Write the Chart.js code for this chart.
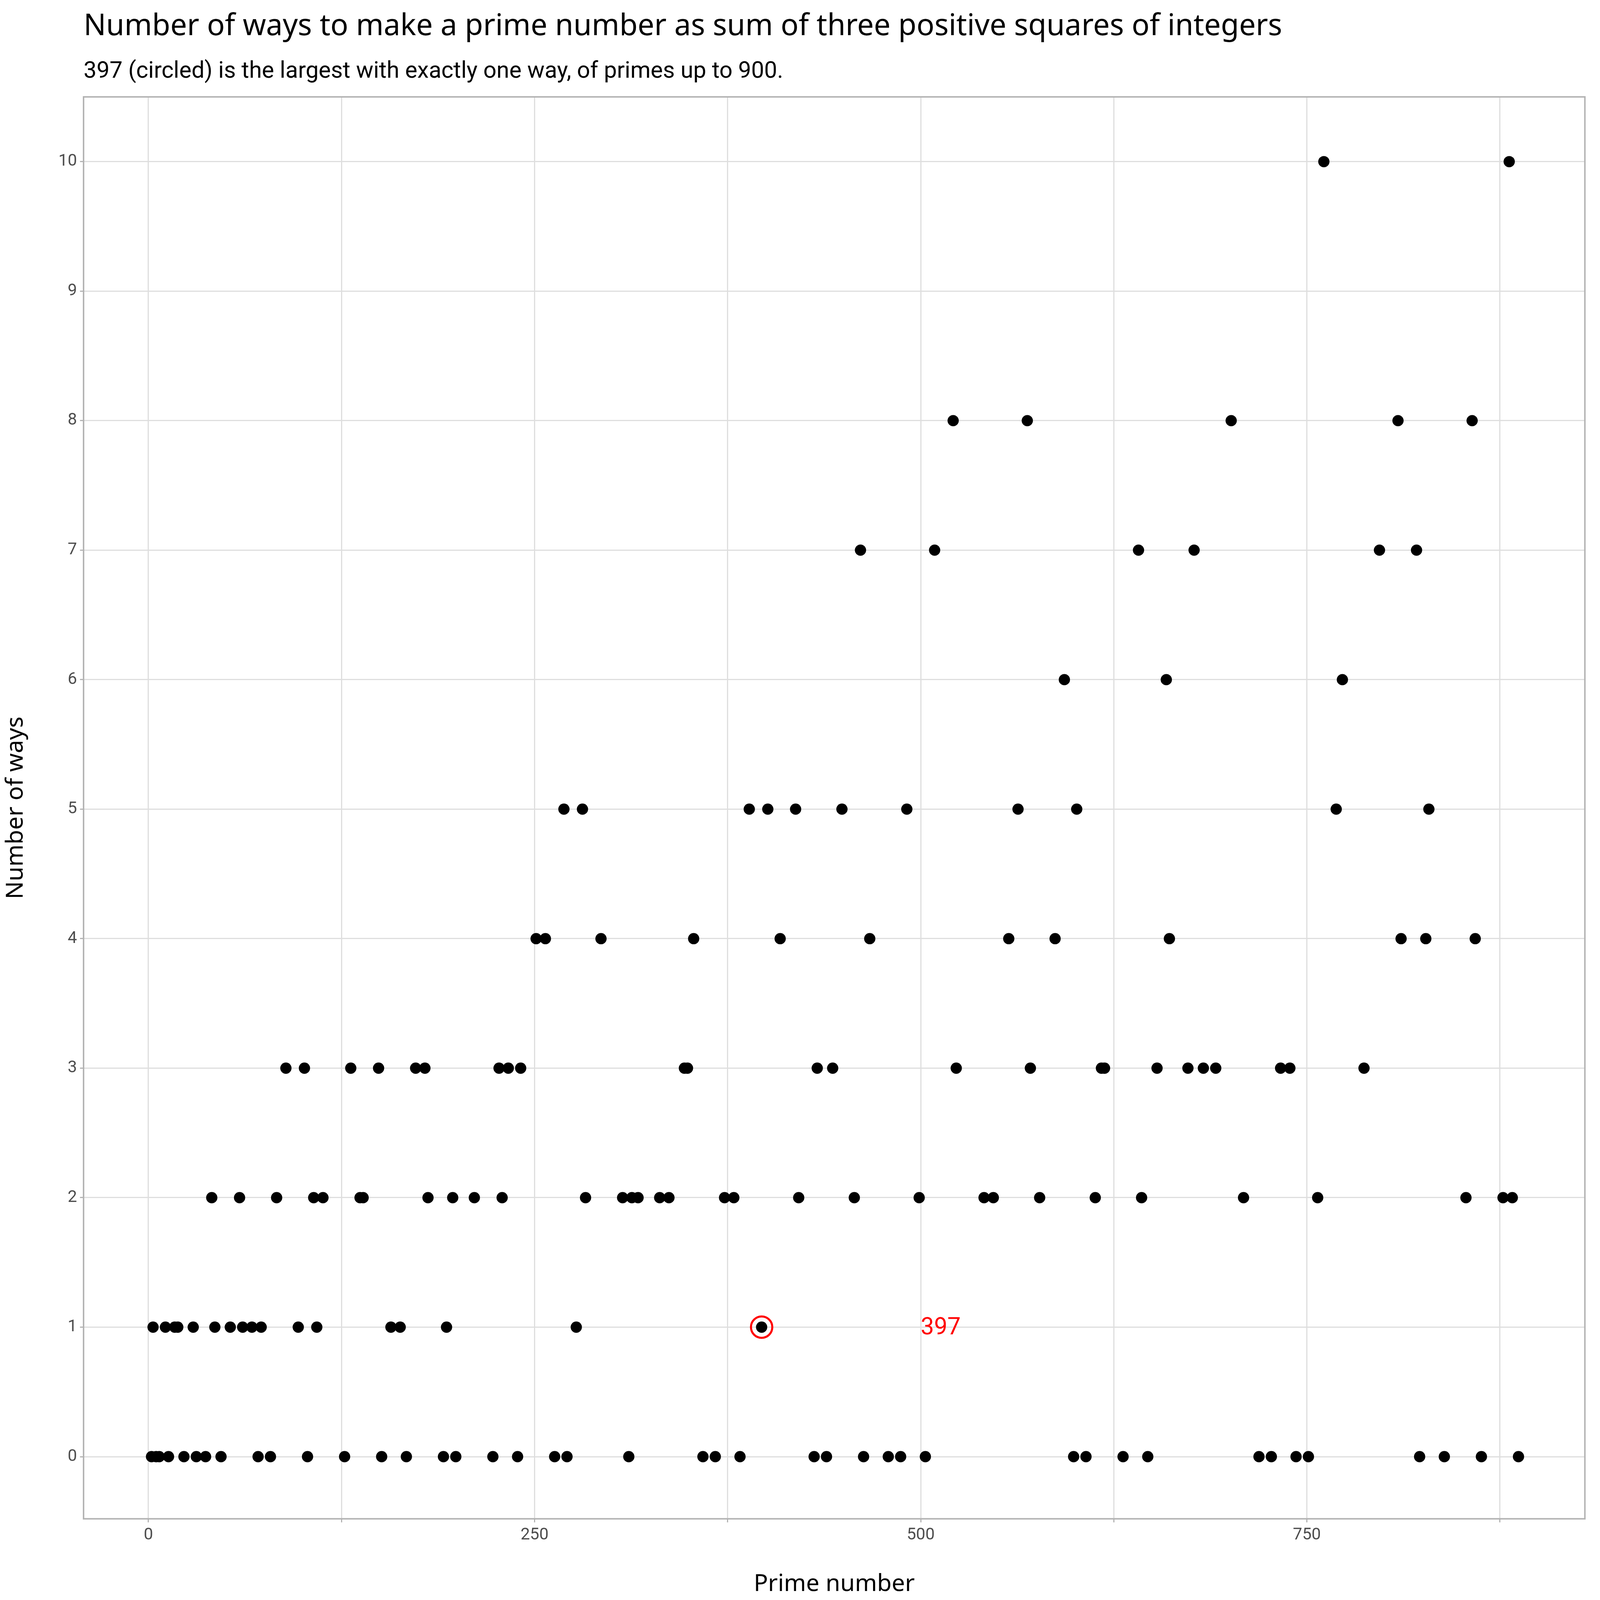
<!DOCTYPE html>
<html>
<head>
<meta charset="utf-8">
<script src="https://cdn.jsdelivr.net/npm/chart.js@4/dist/chart.umd.min.js"></script>
<style>
  html, body { margin: 0; padding: 0; background: #fff; overflow: hidden; }
  canvas { display: block; }
</style>
</head>
<body>
<canvas id="chart"></canvas>
<script>
// Primes up to 900 and the number of ways each is a sum of three positive squares
const primes = [
  2, 3, 5, 7, 11, 13, 17, 19, 23, 29, 31, 37, 41, 43, 47, 53, 59, 61, 67, 71, 73, 79, 83, 89, 97,
  101, 103, 107, 109, 113, 127, 131, 137, 139, 149, 151, 157, 163, 167, 173, 179, 181, 191, 193, 197, 199,
  211, 223, 227, 229, 233, 239, 241, 251, 257, 263, 269, 271, 277, 281, 283, 293,
  307, 311, 313, 317, 331, 337, 347, 349, 353, 359, 367, 373, 379, 383, 389, 397,
  401, 409, 419, 421, 431, 433, 439, 443, 449, 457, 461, 463, 467, 479, 487, 491, 499,
  503, 509, 521, 523, 541, 547, 557, 563, 569, 571, 577, 587, 593, 599,
  601, 607, 613, 617, 619, 631, 641, 643, 647, 653, 659, 661, 673, 677, 683, 691,
  701, 709, 719, 727, 733, 739, 743, 751, 757, 761, 769, 773, 787, 797,
  809, 811, 821, 823, 827, 829, 839, 853, 857, 859, 863, 877, 881, 883, 887
];
const ways = [
  0, 1, 0, 0, 1, 0, 1, 1, 0, 1, 0, 0, 2, 1, 0, 1, 2, 1, 1, 0, 1, 0, 2, 3, 1,
  3, 0, 2, 1, 2, 0, 3, 2, 2, 3, 0, 1, 1, 0, 3, 3, 2, 0, 1, 2, 0,
  2, 0, 3, 2, 3, 0, 3, 4, 4, 0, 5, 0, 1, 5, 2, 4,
  2, 0, 2, 2, 2, 2, 3, 3, 4, 0, 0, 2, 2, 0, 5, 1,
  5, 4, 5, 2, 0, 3, 0, 3, 5, 2, 7, 0, 4, 0, 0, 5, 2,
  0, 7, 8, 3, 2, 2, 4, 5, 8, 3, 2, 4, 6, 0,
  5, 0, 2, 3, 3, 0, 7, 2, 0, 3, 6, 4, 3, 7, 3, 3,
  8, 2, 0, 0, 3, 3, 0, 0, 2, 10, 5, 6, 3, 7,
  8, 4, 7, 0, 4, 5, 0, 2, 8, 4, 0, 2, 10, 2, 0
];
const highlightPrime = 397;
const highlightWays = 1;
const labelText = '397';
const labelX = 500;

const xTicks = [0, 250, 500, 750];
const xGrid = [0, 125, 250, 375, 500, 625, 750, 875];
const yTicks = [0, 1, 2, 3, 4, 5, 6, 7, 8, 9, 10];

const titleText = 'Number of ways to make a prime number as sum of three positive squares of integers';
const subtitleText = '397 (circled) is the largest with exactly one way, of primes up to 900.';

const points = primes.map((p, i) => ({ x: p, y: ways[i] }));

// sizes are laid out for a 5400px wide page, scaled to the real viewport
const W = window.innerWidth, H = window.innerHeight;
const k = W / 5400;
const s = v => v * k;

const canvas = document.getElementById('chart');
canvas.width = W;
canvas.height = H;

// titles, the red label and the panel border
const decorPlugin = {
  id: 'decor',
  afterDraw(chart) {
    const ctx = chart.ctx;
    const xs = chart.scales.x, ys = chart.scales.y;
    ctx.save();
    ctx.fillStyle = '#000';
    ctx.textAlign = 'left';
    ctx.textBaseline = 'alphabetic';
    ctx.font = s(100) + 'px "Noto Sans"';
    ctx.fillText(titleText, s(282), s(118));
    ctx.font = s(78) + 'px Roboto';
    ctx.fillText(subtitleText, s(282), s(262));
    ctx.fillStyle = '#ff0000';
    ctx.font = s(80) + 'px Roboto';
    ctx.textBaseline = 'middle';
    ctx.fillText(labelText, xs.getPixelForValue(labelX), ys.getPixelForValue(highlightWays) + s(4));
    const a = chart.chartArea;
    ctx.strokeStyle = '#b3b3b3';
    ctx.lineWidth = s(5);
    ctx.strokeRect(a.left, a.top, a.right - a.left, a.bottom - a.top);
    ctx.restore();
  }
};

new Chart(canvas.getContext('2d'), {
  type: 'scatter',
  data: {
    datasets: [
      {
        data: points,
        pointRadius: s(19),
        pointHoverRadius: s(19),
        backgroundColor: '#000',
        borderWidth: 0
      },
      {
        data: [{ x: highlightPrime, y: highlightWays }],
        pointRadius: s(36),
        pointHoverRadius: s(36),
        backgroundColor: 'rgba(0,0,0,0)',
        borderColor: '#ff0000',
        borderWidth: s(7)
      }
    ]
  },
  options: {
    responsive: false,
    animation: false,
    layout: { padding: { top: s(327), right: s(51), left: 0, bottom: 0 } },
    plugins: {
      legend: { display: false },
      tooltip: { enabled: false }
    },
    scales: {
      x: {
        type: 'linear',
        min: -42,
        max: 930,
        afterBuildTicks(scale) {
          scale.ticks = xGrid.map(v => ({ value: v }));
        },
        afterFit(scale) { scale.height = s(274); },
        grid: { color: '#dedede', lineWidth: s(4), tickLength: s(12), tickColor: '#b3b3b3' },
        border: { display: false },
        ticks: {
          color: '#4d4d4d',
          font: { family: 'Roboto', size: s(56) },
          padding: s(10),
          autoSkip: false,
          maxRotation: 0,
          callback: v => (xTicks.includes(v) ? String(v) : '')
        },
        title: {
          display: true,
          text: 'Prime number',
          color: '#000',
          font: { family: 'Noto Sans', size: s(80) },
          padding: { top: s(4) }
        }
      },
      y: {
        type: 'linear',
        min: -0.48,
        max: 10.5,
        afterBuildTicks(scale) {
          scale.ticks = yTicks.map(v => ({ value: v }));
        },
        afterFit(scale) { scale.width = s(282); },
        grid: { color: '#dedede', lineWidth: s(4), tickLength: s(12), tickColor: '#b3b3b3' },
        border: { display: false },
        ticks: {
          color: '#4d4d4d',
          font: { family: 'Roboto', size: s(56) },
          padding: s(10)
        },
        title: {
          display: true,
          text: 'Number of ways',
          color: '#000',
          font: { family: 'Noto Sans', size: s(80) },
          padding: { bottom: s(20) }
        }
      }
    }
  },
  plugins: [decorPlugin]
});
</script>
</body>
</html>
